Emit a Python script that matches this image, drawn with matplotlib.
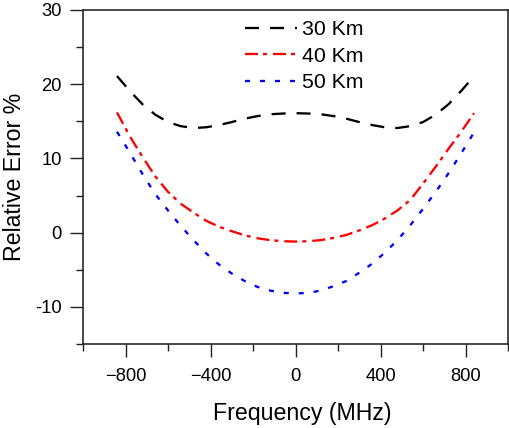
import matplotlib
matplotlib.use("Agg")
import matplotlib.pyplot as plt
from matplotlib.ticker import MultipleLocator

plt.rcParams['font.family'] = ['Liberation Sans', 'DejaVu Sans']
plt.rcParams['lines.scale_dashes'] = False

freq = [-840, -780, -720, -660, -600, -540, -480, -420, -360, -300, -240, -180, -120, -60, 0,
        60, 120, 180, 240, 300, 360, 420, 480, 540, 600, 660, 720, 780, 840]
err_30 = [21.1, 19.1, 17.3, 15.9, 14.9, 14.35, 14.1, 14.2, 14.5, 14.9, 15.35, 15.7, 15.95, 16.05, 16.1,
          16.05, 15.95, 15.7, 15.35, 14.9, 14.5, 14.2, 14.1, 14.35, 14.9, 15.9, 17.3, 19.1, 21.1]
err_40 = [16.2, 13.0, 10.2, 7.6, 5.5, 3.9, 2.7, 1.6, 0.8, 0.2, -0.35, -0.75, -1.0, -1.15, -1.2,
          -1.15, -1.0, -0.7, -0.3, 0.3, 1.0, 1.9, 3.0, 4.4, 6.6, 8.9, 11.3, 13.6, 16.1]
err_50 = [13.6, 10.8, 7.9, 5.2, 3.0, 0.9, -1.0, -2.8, -4.3, -5.5, -6.5, -7.3, -7.8, -8.1, -8.2,
          -8.1, -7.8, -7.2, -6.5, -5.4, -4.2, -2.7, -1.0, 1.0, 3.2, 5.5, 8.0, 10.7, 13.5]
labels = ["30 Km", "40 Km", "50 Km"]
xtick_vals = [-800, -400, 0, 400, 800]
xtick_labels = ["\u2212800", "\u2212400", "0", "400", "800"]
ytick_vals = [-10, 0, 10, 20, 30]
ytick_labels = ["-10", "0", "10", "20", "30"]

px = 0.72  # points per pixel at dpi 100
fig = plt.figure(figsize=(5.10, 4.28), dpi=100)
ax = fig.add_axes([83/510, 1 - 344/428, (508 - 83)/510, (344 - 10)/428])

lw = 2.3 * px
ax.plot(freq, err_30, color='black', lw=lw, dashes=(14*px, 11*px), label=labels[0])
ax.plot(freq, err_40, color='#ff0000', lw=lw, dashes=(13*px, 5*px, 4*px, 6*px), label=labels[1])
ax.plot(freq, err_50, color='#0000ff', lw=lw, dashes=(5*px, 10*px), label=labels[2])

ax.set_xlim(-1000, 1000)
ax.set_ylim(-15, 30)
ax.xaxis.set_minor_locator(MultipleLocator(200))
ax.yaxis.set_minor_locator(MultipleLocator(5))
ax.set_xticks(xtick_vals)
ax.set_xticklabels(xtick_labels)
ax.set_yticks(ytick_vals)
ax.set_yticklabels(ytick_labels)

ax.tick_params(which='major', direction='out', length=13*px, width=1.4*px, labelsize=13.2,
               colors='#222222', labelcolor='black')
ax.tick_params(which='minor', direction='out', length=7*px, width=1.4*px, colors='#222222')
ax.tick_params(axis='x', which='major', pad=11*px)
ax.tick_params(axis='y', which='major', pad=8*px)
for s in ax.spines.values():
    s.set_linewidth(1.6*px)
    s.set_color('#222222')

ax.set_xlabel("Frequency (MHz)", fontsize=16.7, labelpad=12.5)
ax.xaxis.label.set_x((302 - 83) / (508 - 83))
ax.set_ylabel("Relative Error %", fontsize=16.7, labelpad=7)

ax.legend(loc='upper left', bbox_to_anchor=(245/510, 1 - 20/428),
          bbox_transform=fig.transFigure, frameon=False, fontsize=15.3,
          handlelength=2.45, handletextpad=0.22, labelspacing=0.36,
          borderpad=0, borderaxespad=0)

fig.savefig("out.png", dpi=100)
